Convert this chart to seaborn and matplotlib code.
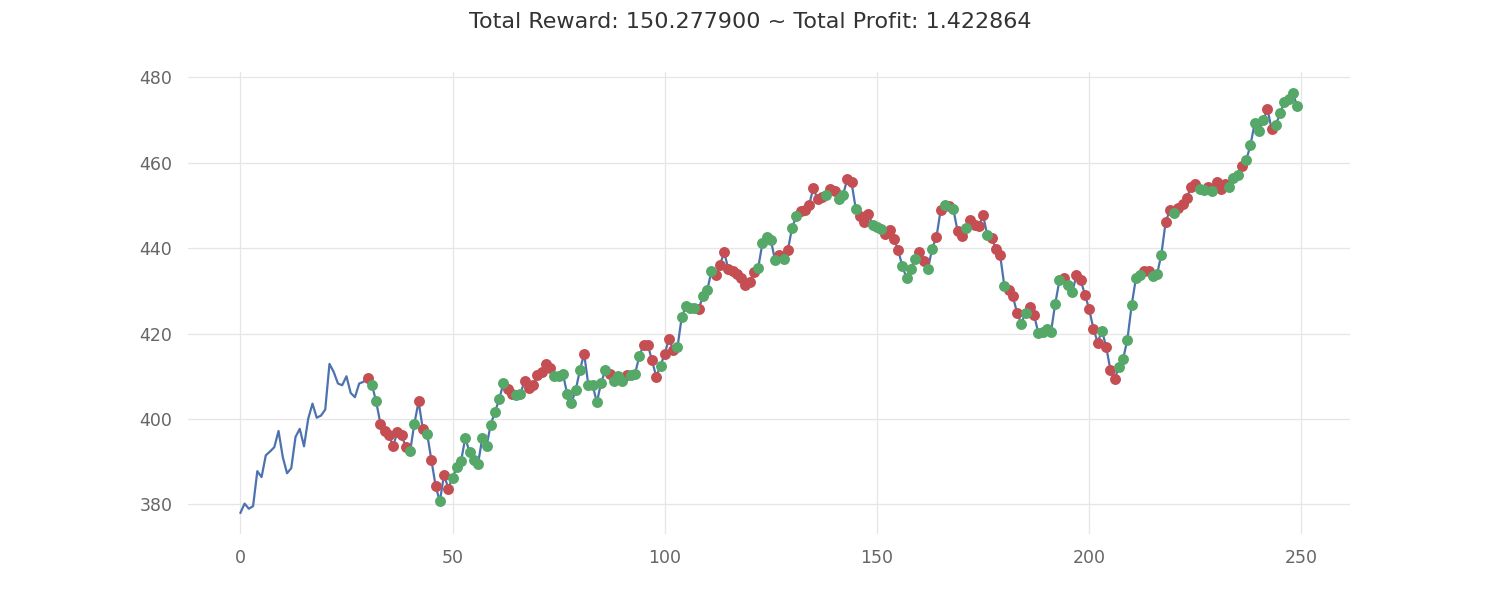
import numpy as np
import pandas as pd
import matplotlib
matplotlib.use("Agg")
import matplotlib.pyplot as plt
import seaborn as sns

prices = [
    378.0, 380.2, 379.0, 379.6, 387.8, 386.4, 391.5, 392.4, 393.4, 397.2,
    391.1, 387.3, 388.5, 395.8, 397.7, 393.6, 400.1, 403.6, 400.3, 400.8,
    402.2, 412.9, 411.0, 408.3, 407.9, 410.0, 406.1, 405.1, 408.3, 408.7,
    409.6, 408.0, 404.1, 398.9, 397.1, 396.3, 393.6, 397.0, 396.2, 393.4,
    392.4, 398.9, 404.1, 397.6, 396.6, 390.5, 384.4, 380.7, 387.0, 383.7,
    386.3, 388.7, 390.1, 395.6, 392.2, 390.3, 389.4, 395.6, 393.7, 398.7,
    401.7, 404.6, 408.5, 407.1, 405.9, 405.7, 405.9, 409.0, 407.3, 408.0,
    410.2, 411.0, 412.8, 411.9, 410.0, 410.0, 410.6, 405.9, 403.8, 406.7,
    411.4, 415.3, 407.9, 407.9, 403.9, 408.5, 411.4, 410.6, 408.8, 410.0,
    409.0, 410.2, 410.2, 410.6, 414.7, 417.4, 417.4, 413.7, 409.9, 412.5,
    415.3, 418.8, 416.2, 416.8, 423.9, 426.4, 426.0, 426.0, 425.8, 428.7,
    430.1, 434.6, 433.6, 436.1, 439.0, 435.0, 434.6, 433.9, 432.9, 431.3,
    432.1, 434.4, 435.3, 441.1, 442.6, 441.8, 437.1, 438.3, 437.5, 439.5,
    444.8, 447.4, 448.6, 449.0, 450.0, 454.1, 451.4, 452.0, 452.4, 453.9,
    453.4, 451.6, 452.5, 456.1, 455.4, 449.2, 447.4, 446.1, 447.9, 445.3,
    444.9, 444.4, 443.4, 444.3, 442.2, 439.5, 435.7, 432.9, 435.2, 437.5,
    439.1, 436.9, 435.0, 439.9, 442.5, 448.9, 450.2, 449.9, 449.1, 443.9,
    442.8, 444.6, 446.5, 445.3, 445.1, 447.7, 443.0, 442.4, 439.9, 438.5,
    431.2, 430.1, 428.7, 424.9, 422.3, 424.9, 426.1, 424.4, 420.2, 420.4,
    421.1, 420.4, 427.0, 432.5, 433.1, 431.3, 429.7, 433.6, 432.5, 429.1,
    425.7, 421.1, 417.9, 420.7, 416.9, 411.5, 409.3, 412.2, 414.1, 418.6,
    426.6, 432.9, 433.6, 434.6, 434.6, 433.4, 433.9, 438.5, 446.0, 448.9,
    448.2, 449.4, 450.4, 451.8, 454.2, 454.9, 453.9, 453.5, 454.3, 453.3,
    455.4, 453.9, 455.1, 454.2, 456.3, 457.2, 459.3, 460.6, 464.1, 469.3,
    467.4, 469.9, 472.5, 467.8, 468.8, 471.7, 474.1, 474.8, 476.3, 473.2,
]

window_size = 30
# S = short (red), L = long (green), one letter per tick from window_size on
positions = (
    "SLLSSSSSSS" "LLSSLSSLSS" "LLLLLLLLLL" "LLLSSLLSSS" "SSSSLLLLLL"
    "LSLLLLLSLL" "LSLLLSSSSL" "SSSLLLLLSL" "LLSSSSSSSS" "SSLLLLLSLS"
    "LLSSSSSSLS" "SLLSSLSSSL" "LLSSSSLLLL" "SSLLSSLSLS" "SLSSSSLSSS"
    "LSSSLLSSLL" "LLLLSLLSSS" "SSSLSSSLLL" "LLLSSLLLSS" "LSSSSSLLSL"
    "SSSLLLSLLL" "LLSSLLLLLL"
)

title = "Total Reward: 150.277900 ~ Total Profit: 1.422864"

ticks = np.arange(len(prices))
df = pd.DataFrame({"tick": ticks, "price": prices})
pos_df = pd.DataFrame({
    "tick": ticks[window_size:],
    "price": prices[window_size:],
    "pos": list(positions),
})

sns.set_theme(style="whitegrid")
plt.rcParams["font.family"] = ["DejaVu Sans"]

fig = plt.figure(figsize=(15, 6), dpi=100)
ax = fig.add_subplot(111)

line_c = "#4C72B0"
red_c = "#C44E52"
green_c = "#55A868"

sns.lineplot(data=df, x="tick", y="price", ax=ax, color=line_c, linewidth=1.6)
sns.scatterplot(data=pos_df[pos_df["pos"] == "S"], x="tick", y="price", ax=ax,
                color=red_c, s=62, linewidth=0, zorder=3)
sns.scatterplot(data=pos_df[pos_df["pos"] == "L"], x="tick", y="price", ax=ax,
                color=green_c, s=62, linewidth=0, zorder=4)

ax.set_xlabel("")
ax.set_ylabel("")
ax.set_xticks([0, 50, 100, 150, 200, 250])
ax.set_yticks([380, 400, 420, 440, 460, 480])
for s in ax.spines.values():
    s.set_visible(False)
ax.grid(True, color="#e6e6e6", linewidth=0.9)
ax.tick_params(axis="both", length=0, pad=11, labelsize=12.5, labelcolor="#666666")

fig.subplots_adjust(left=0.125, right=0.9, top=0.88, bottom=0.11)
fig.suptitle(title, fontsize=16, color="#333333")

fig.savefig("out.png", dpi=100, facecolor="white")
